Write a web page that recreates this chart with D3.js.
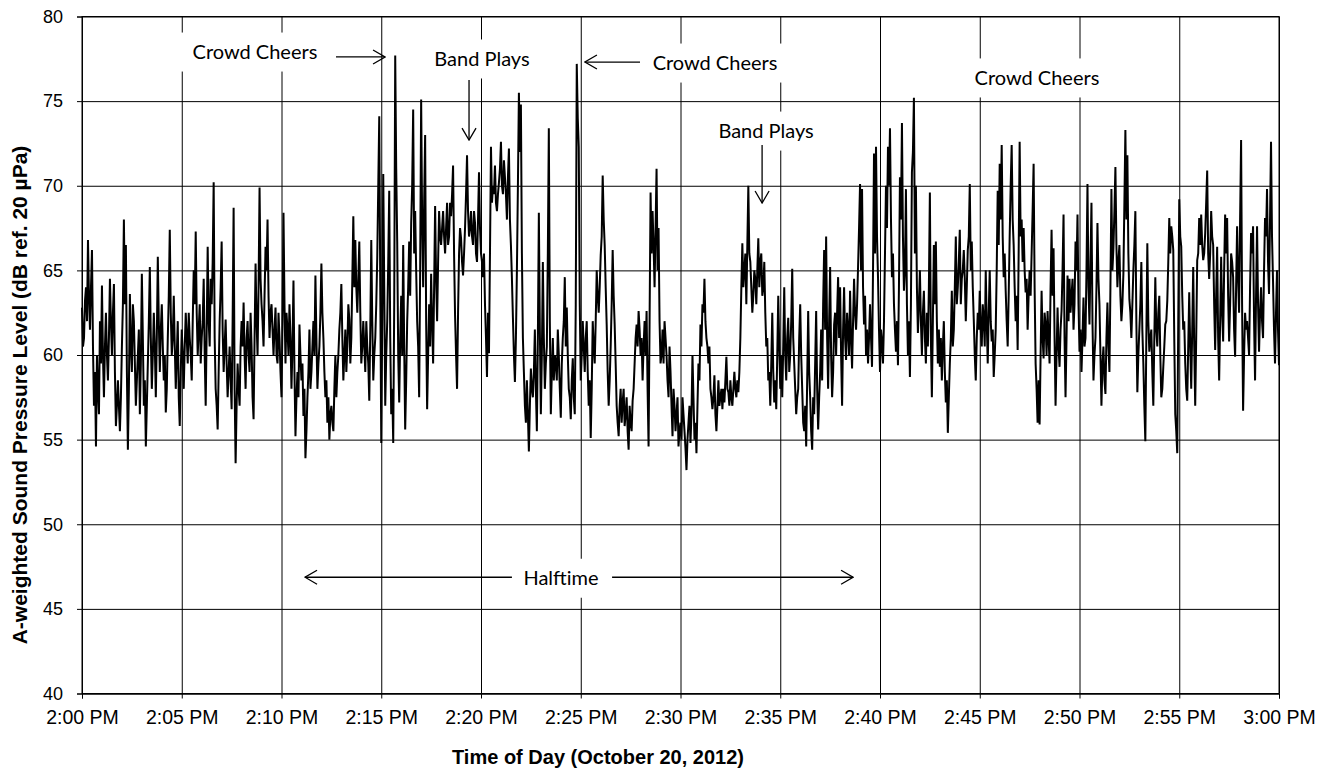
<!DOCTYPE html>
<html>
<head>
<meta charset="utf-8">
<script src="https://cdn.jsdelivr.net/npm/d3@7"></script>
<style>
  body { margin: 0; background: #fff; }
  svg { display: block; }
  .tick text { font-family: "Liberation Sans", Arial, sans-serif; fill: #000; }
  .axis-title { font-family: "Liberation Sans", Arial, sans-serif; font-weight: bold; fill: #000; }
  .note-text { font-family: Lato, "Open Sans", sans-serif; fill: #000; }
</style>
</head>
<body>
<svg id="chart" width="1328" height="769"></svg>
<script>
// A-weighted SPL, one reading every 3 s, split by 5-minute block
const spl_1400 = [62.8,60.5,61.0,63.2,64.0,62.0,66.8,63.5,61.5,64.0,66.2,60.5,57.0,59.0,54.6,60.0,58.0,56.5,62.0,59.5,
  64.1,60.0,57.5,60.5,62.5,60.0,58.5,61.0,64.5,62.0,60.0,62.5,64.2,59.0,55.8,57.0,58.5,57.0,55.5,57.5,
  60.5,63.0,68.0,63.0,66.5,59.0,54.4,58.0,63.6,60.5,59.0,63.0,62.0,59.5,57.0,58.5,60.0,61.5,56.5,59.5,
  64.8,61.0,57.0,58.5,54.6,57.0,59.5,62.0,65.2,61.0,58.0,60.0,62.5,60.5,57.5,61.0,65.8,62.0,59.0,61.5,
  63.0,60.5,58.5,60.0,56.6,58.0,61.0,63.5,67.4,62.5,60.0,61.0,63.5,60.5,58.0,60.0,62.0,57.5,55.8,59.0];
const spl_1405 = [61.5,60.0,58.0,60.5,62.5,61.0,59.5,62.5,61.0,60.0,58.5,62.0,65.0,63.0,67.3,62.5,60.0,61.5,63.0,59.5,
  61.0,62.0,64.5,60.0,57.0,61.5,66.4,62.0,60.5,64.5,63.0,65.5,70.2,61.0,58.0,57.0,55.6,59.0,62.0,64.0,
  66.7,61.5,59.0,60.5,62.1,59.5,57.5,59.0,60.5,58.5,56.8,62.0,68.7,58.0,53.6,57.0,59.5,58.0,57.0,60.5,
  62.0,60.5,63.1,60.0,58.0,61.0,62.0,60.0,59.0,62.5,60.5,57.5,56.2,61.0,65.4,62.0,60.0,64.0,69.9,64.5,
  63.0,62.0,60.5,63.5,66.4,65.0,68.0,63.5,61.0,62.5,63.0,61.5,60.0,61.5,62.8,60.0,59.5,62.5,61.0,59.0];
const spl_1410 = [57.5,62.0,68.4,63.0,59.5,62.5,61.5,60.0,63.0,61.0,58.0,60.5,64.4,59.0,55.2,57.5,59.0,57.5,61.8,60.0,
  58.5,59.5,56.4,58.0,53.9,55.5,57.5,59.0,61.5,58.0,59.0,60.5,62.0,60.0,64.7,61.0,58.0,59.5,60.5,62.5,
  65.4,62.5,61.0,59.0,57.5,58.5,56.0,57.5,55.0,56.5,57.0,56.0,55.5,58.0,60.0,57.5,59.0,60.0,61.5,62.5,
  64.2,61.0,58.5,60.0,61.5,59.0,60.5,63.0,62.1,59.5,61.0,64.5,68.2,64.0,66.8,64.0,62.5,64.5,66.7,62.5,
  59.5,60.5,62.0,60.5,59.0,62.0,60.5,59.5,57.3,61.5,66.8,62.0,58.5,60.0,61.0,63.0,65.8,70.0,74.1,64.0];
const spl_1415 = [54.8,62.0,70.7,64.0,57.0,60.0,62.0,65.5,69.7,61.0,56.5,58.0,54.8,63.0,77.7,71.0,66.7,60.0,57.2,61.0,
  63.5,60.0,66.5,60.5,55.6,58.5,62.0,64.0,66.7,63.5,67.8,70.0,74.5,66.0,68.5,65.0,62.0,60.5,57.5,65.0,
  75.1,68.0,64.0,69.0,73.0,62.0,56.8,60.0,63.0,60.5,64.8,62.0,59.5,64.0,68.8,64.5,62.0,65.5,68.5,67.0,
  66.5,67.5,68.5,67.0,66.0,67.5,69.0,66.5,67.0,69.0,68.2,69.5,71.2,66.0,62.3,60.0,58.0,62.5,66.0,67.5,
  66.9,65.5,64.7,66.0,67.5,69.5,71.8,68.5,67.0,67.5,68.5,67.0,66.5,68.5,67.8,66.0,65.5,68.0,70.8,67.5];
const spl_1420 = [66.0,65.5,64.6,66.0,63.0,61.0,58.7,62.5,60.1,66.0,72.3,69.0,70.0,69.5,71.2,69.0,68.5,69.5,70.2,71.0,
  72.6,70.0,69.5,71.5,70.5,69.5,68.0,70.5,72.2,68.0,66.5,64.5,62.2,60.0,58.4,61.0,65.0,70.0,75.5,72.0,
  74.8,66.0,61.0,59.0,57.0,56.0,58.5,56.5,54.3,57.0,59.2,58.0,57.5,59.0,61.5,58.0,55.5,61.0,68.4,61.5,
  56.5,60.0,65.5,61.0,58.0,59.5,60.5,66.0,73.4,62.0,56.5,59.0,61.0,58.5,60.0,59.5,58.5,61.5,60.0,58.0,
  56.3,59.5,61.0,62.0,64.6,60.5,62.8,60.0,58.0,57.5,56.2,58.5,59.8,57.5,56.5,63.0,77.2,74.0,72.3,63.0];
const spl_1425 = [58.5,60.0,62.0,60.5,59.0,61.0,62.0,59.0,57.0,58.5,55.1,58.0,62.0,60.5,59.5,62.0,65.0,63.5,62.5,64.0,
  65.9,67.0,70.6,68.0,66.5,64.0,61.8,59.0,57.0,58.5,60.5,63.0,66.2,63.5,61.8,59.5,57.0,56.0,55.2,57.0,
  58.0,56.0,57.2,58.0,55.8,56.5,57.5,55.5,54.4,57.0,56.0,55.5,57.3,58.0,59.5,61.0,61.8,60.5,62.6,61.5,
  60.0,61.0,58.5,60.5,62.0,60.0,62.6,58.0,54.6,62.0,69.6,66.0,68.5,66.5,64.0,67.5,71.0,65.0,67.5,62.0,
  59.5,60.0,61.5,59.5,62.0,61.0,60.0,58.5,57.5,60.5,59.0,57.0,55.2,58.0,57.0,55.5,56.5,57.5,54.6,55.5];
const spl_1430 = [56.0,55.0,57.5,56.5,55.5,54.5,53.2,55.0,56.0,57.0,54.8,56.5,60.0,57.5,55.0,56.0,54.2,57.0,59.5,58.5,
  61.8,60.5,63.0,62.5,64.5,62.0,61.0,60.5,59.5,60.5,58.0,57.5,56.8,57.5,58.8,56.5,55.5,57.0,58.5,57.0,
  57.5,58.0,56.8,58.0,57.2,58.5,59.9,58.0,57.8,57.0,58.5,57.5,57.0,58.0,59.0,58.0,57.5,58.5,57.8,59.0,
  61.0,64.0,66.6,64.0,65.0,66.0,63.0,66.5,70.0,66.0,65.5,64.0,62.5,63.5,65.0,64.5,63.0,65.0,66.9,64.0,
  65.5,66.0,63.5,64.0,65.5,62.5,60.5,61.0,58.5,59.0,57.0,59.5,62.5,59.0,57.2,58.5,56.8,60.0,63.5,60.5];
const spl_1435 = [58.0,60.0,57.5,60.5,64.0,60.0,58.5,61.0,62.2,59.0,60.0,62.0,65.1,61.0,59.5,58.0,56.5,57.5,58.0,61.0,
  63.0,60.0,58.0,56.0,55.5,57.0,54.6,58.5,62.6,59.0,57.5,55.5,54.4,57.5,56.5,59.5,62.6,58.0,55.6,57.5,
  59.0,61.5,58.5,63.0,66.2,61.5,67.0,61.0,58.0,62.0,65.2,60.0,57.5,59.0,61.8,62.5,60.0,62.5,64.6,61.0,
  64.0,60.0,57.0,61.5,64.0,61.0,59.7,62.5,61.5,60.0,63.8,61.0,59.2,62.0,64.5,62.5,61.5,63.0,65.2,67.5,
  70.1,65.0,69.8,64.0,61.8,63.5,60.0,61.5,59.5,61.0,63.0,61.0,59.3,65.0,71.9,66.0,72.3,67.0,64.6,61.5];
const spl_1440 = [59.0,61.5,60.8,59.5,62.0,66.0,70.0,67.5,72.3,70.0,73.4,68.0,64.6,66.0,63.0,61.5,60.2,62.0,59.4,64.0,
  70.5,68.0,73.7,67.0,63.8,65.0,69.8,63.0,60.0,62.0,58.7,63.0,70.8,72.0,75.2,66.0,70.0,64.0,61.3,63.0,
  65.0,62.0,60.0,62.5,63.8,61.0,59.5,62.5,60.5,64.0,69.6,61.0,57.5,62.0,66.5,63.0,66.7,62.0,59.5,61.5,
  59.3,61.0,58.5,60.5,62.0,59.0,57.2,58.5,55.4,57.5,59.5,61.0,63.8,60.5,61.5,64.0,67.0,63.0,64.0,65.5,
  67.4,63.0,64.5,65.0,66.2,64.5,62.0,64.0,66.2,67.0,70.1,65.0,66.7,64.0,62.1,60.0,58.5,61.0,62.5,61.5];
const spl_1445 = [63.8,61.5,60.5,63.0,62.1,60.5,65.0,62.0,59.5,62.5,65.0,62.0,60.8,61.5,58.7,60.0,61.5,65.0,69.7,66.5,
  71.3,68.0,72.4,67.0,64.6,66.0,63.8,62.0,60.5,63.5,67.0,70.0,72.4,68.0,66.5,64.0,62.0,63.5,60.3,66.0,
  72.6,67.0,68.0,65.5,67.5,65.0,63.7,64.5,61.5,63.5,65.0,63.5,66.0,68.5,71.3,64.0,59.5,58.0,56.0,58.5,
  55.9,60.0,63.8,61.0,59.8,62.5,61.8,60.0,62.6,61.0,59.5,64.0,67.4,63.5,66.3,61.0,57.0,60.0,62.8,60.5,
  59.3,61.5,62.6,65.0,68.3,61.0,57.5,61.0,64.7,62.0,64.5,62.5,63.5,64.5,61.5,63.0,66.7,65.0,68.3,63.0];
const spl_1450 = [60.2,61.5,59.0,61.0,63.4,60.5,61.0,65.0,70.1,64.0,61.8,65.5,69.0,62.0,58.5,60.0,61.0,64.0,67.8,64.5,
  63.0,60.0,57.0,59.5,60.5,58.5,57.7,61.0,63.1,60.5,59.0,64.0,69.8,65.0,66.3,68.5,71.1,66.5,64.0,65.5,
  66.5,63.5,62.0,63.0,64.8,69.0,73.3,68.0,71.8,66.0,63.3,62.5,61.0,63.0,65.0,66.5,68.5,62.0,57.8,60.0,
  61.5,63.0,65.5,61.5,59.5,57.0,54.9,61.0,66.6,62.0,60.2,61.0,61.5,59.0,57.0,61.0,64.6,61.5,60.5,62.5,
  63.5,60.0,57.5,58.0,59.3,60.5,61.8,62.0,63.2,65.5,68.1,66.0,67.6,67.0,66.2,61.0,56.5,55.5,54.2,62.0];
const spl_1455 = [69.2,67.0,66.4,63.5,61.5,62.0,59.5,58.0,57.3,60.5,63.7,60.5,58.0,61.5,65.2,60.5,57.0,61.0,65.6,66.0,
  68.1,66.5,68.3,66.5,65.6,66.0,67.2,69.0,70.9,66.0,64.5,66.0,68.5,67.0,66.5,63.0,60.3,63.5,66.4,61.0,
  58.5,62.0,65.8,62.5,60.8,65.0,68.3,66.0,68.1,63.5,60.8,63.0,66.0,65.5,64.6,61.5,59.9,64.0,67.6,64.5,
  62.5,68.0,72.7,63.0,56.7,60.0,62.5,61.5,62.0,61.0,60.0,64.0,67.2,66.0,67.6,62.0,58.5,63.5,67.6,63.0,
  60.2,62.5,64.0,62.0,61.0,65.0,68.1,67.0,69.8,65.5,63.6,68.0,72.6,67.0,64.4,61.5,59.5,62.5,65.0,61.5,
  59.4];

const stepSeconds = 3;
const yTicks = [40, 45, 50, 55, 60, 65, 70, 75, 80];
const xTickMinutes = [0, 5, 10, 15, 20, 25, 30, 35, 40, 45, 50, 55, 60];

// annotation labels: minutes after 2:00 PM, level in dB
const noteLabels = [
  { text: 'Crowd Cheers', min: 8.67, db: 77.9 },
  { text: 'Band Plays', min: 20.05, db: 77.49 },
  { text: 'Crowd Cheers', min: 31.73, db: 77.25 },
  { text: 'Band Plays', min: 34.29, db: 73.23 },
  { text: 'Crowd Cheers', min: 47.87, db: 76.37 },
  { text: 'Halftime', min: 24.01, db: 46.81 }
];
const noteArrows = [
  { from: [12.73, 77.61], to: [15.19, 77.61] },
  { from: [19.40, 76.25], to: [19.40, 72.70] },
  { from: [27.97, 77.31], to: [25.21, 77.31] },
  { from: [34.09, 72.41], to: [34.09, 68.98] },
  { from: [21.55, 46.87], to: [11.18, 46.87] },
  { from: [26.57, 46.87], to: [38.65, 46.87] }
];

const levels = [].concat(spl_1400, spl_1405, spl_1410, spl_1415, spl_1420, spl_1425,
  spl_1430, spl_1435, spl_1440, spl_1445, spl_1450, spl_1455);

const t0 = new Date(2012, 9, 20, 14, 0, 0);
const atMin = m => new Date(t0.getTime() + m * 60000);
const series = levels.map((v, i) => ({ t: new Date(t0.getTime() + i * stepSeconds * 1000), v }));

const W = 1328, H = 769;
const margin = { top: 16.5, right: 49, bottom: 75.5, left: 82 };
const iw = W - margin.left - margin.right;
const ih = H - margin.top - margin.bottom;

const svg = d3.select('#chart');
const g = svg.append('g').attr('transform', `translate(${margin.left},${margin.top})`);

const x = d3.scaleTime().domain([t0, atMin(60)]).range([0, iw]);
const y = d3.scaleLinear().domain([40, 80]).range([ih, 0]);

const fmt = d3.timeFormat('%-I:%M %p');

// gridlines
g.append('g')
  .attr('class', 'grid')
  .call(d3.axisLeft(y).tickValues(yTicks).tickSize(-iw).tickFormat(''))
  .call(s => s.select('.domain').remove())
  .selectAll('line').attr('stroke', '#000').attr('stroke-width', 1);

g.append('g')
  .attr('class', 'grid')
  .call(d3.axisBottom(x).tickValues(xTickMinutes.map(atMin)).tickSize(ih).tickFormat(''))
  .call(s => s.select('.domain').remove())
  .selectAll('line').attr('stroke', '#000').attr('stroke-width', 1);

// axes
const yAxis = g.append('g')
  .call(d3.axisLeft(y).tickValues(yTicks).tickSize(5).tickPadding(14).tickFormat(d3.format('d')));
yAxis.selectAll('text').style('font-size', '18px');

const xAxis = g.append('g')
  .attr('transform', `translate(0,${ih})`)
  .call(d3.axisBottom(x).tickValues(xTickMinutes.map(atMin)).tickSize(5).tickPadding(11.5).tickFormat(fmt));
xAxis.selectAll('text').style('font-size', '19.5px');

[yAxis, xAxis].forEach(a => {
  a.select('.domain').attr('stroke', '#000');
  a.selectAll('.tick line').attr('stroke', '#000');
});

// right and top frame
g.append('rect')
  .attr('width', iw).attr('height', ih)
  .attr('fill', 'none').attr('stroke', '#000').attr('stroke-width', 1);

// data line
g.append('path')
  .datum(series)
  .attr('fill', 'none')
  .attr('stroke', '#000')
  .attr('stroke-width', 2)
  .attr('d', d3.line().x(d => x(d.t)).y(d => y(d.v)));

// annotations
const defs = svg.append('defs');
defs.append('marker')
  .attr('id', 'arrowOpen')
  .attr('viewBox', '0 0 14 16')
  .attr('refX', 13).attr('refY', 8)
  .attr('markerWidth', 14).attr('markerHeight', 16)
  .attr('markerUnits', 'userSpaceOnUse')
  .attr('orient', 'auto')
  .append('path')
  .attr('d', 'M1,1 L13,8 L1,15')
  .attr('fill', 'none')
  .attr('stroke', '#000')
  .attr('stroke-width', 1.3);

const notes = g.append('g').attr('class', 'notes');
noteLabels.forEach(n => {
  const cx = x(atMin(n.min)), cy = y(n.db);
  const box = notes.append('rect').attr('fill', '#fff');
  const txt = notes.append('text')
    .attr('class', 'note-text')
    .attr('x', cx).attr('y', cy)
    .attr('dy', '0.35em')
    .attr('text-anchor', 'middle')
    .style('font-size', '20px')
    .text(n.text);
  const bb = txt.node().getBBox();
  box.attr('x', bb.x - 13).attr('y', cy - 19.5)
    .attr('width', bb.width + 26).attr('height', 39);
});

notes.selectAll('.arrow')
  .data(noteArrows)
  .join('line')
  .attr('class', 'arrow')
  .attr('x1', d => x(atMin(d.from[0]))).attr('y1', d => y(d.from[1]))
  .attr('x2', d => x(atMin(d.to[0]))).attr('y2', d => y(d.to[1]))
  .attr('stroke', '#000')
  .attr('stroke-width', 1.3)
  .attr('marker-end', 'url(#arrowOpen)');

// axis titles
svg.append('text')
  .attr('class', 'axis-title')
  .attr('x', 598)
  .attr('y', 764)
  .attr('text-anchor', 'middle')
  .style('font-size', '20px')
  .text('Time of Day (October 20, 2012)');

svg.append('text')
  .attr('class', 'axis-title')
  .attr('transform', `translate(27,395) rotate(-90)`)
  .attr('text-anchor', 'middle')
  .style('font-size', '21px')
  .text('A-weighted Sound Pressure Level (dB ref. 20 µPa)');
</script>
</body>
</html>
